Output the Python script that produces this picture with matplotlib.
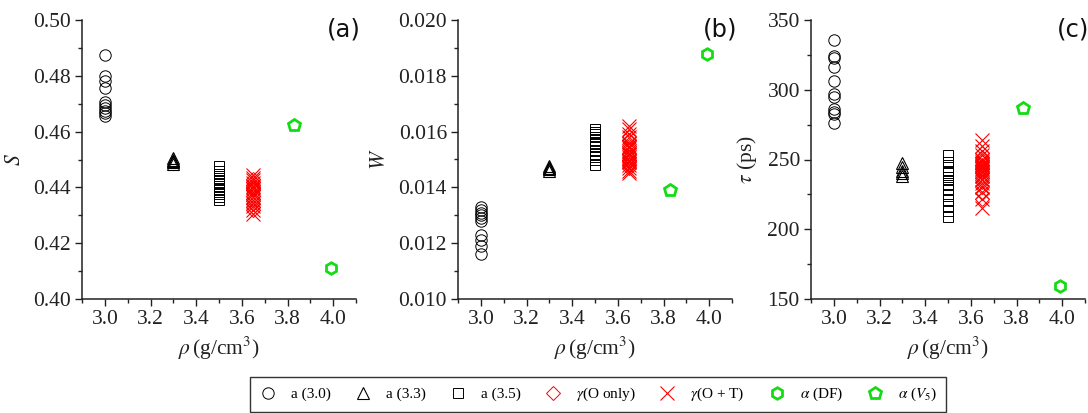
import matplotlib
matplotlib.use("Agg")
import matplotlib.pyplot as plt
from matplotlib.ticker import MultipleLocator, FormatStrFormatter

plt.rcParams['font.family'] = ['Liberation Serif', 'DejaVu Serif']
plt.rcParams['mathtext.fontset'] = 'stix'

# ---- data ----
rho_a30, rho_a33, rho_a35, rho_gam, rho_dfa, rho_v5 = 3.0, 3.3, 3.5, 3.65, 3.99, 3.83

S_a30 = [0.4875, 0.4800, 0.4780, 0.4755, 0.4705, 0.4695, 0.4685, 0.4675, 0.4665, 0.4655]
S_a33 = [0.4485, 0.4490, 0.4495, 0.4500, 0.4505]
S_a35 = [0.4475, 0.4460, 0.4448, 0.4435, 0.4425, 0.4415, 0.4405, 0.4395, 0.4385, 0.4375, 0.4365, 0.4355]
S_gO = [0.4430, 0.4420, 0.4410, 0.4400, 0.4398, 0.4395, 0.4390, 0.4370, 0.4360, 0.4350, 0.4340, 0.4330, 0.4320]
S_gOT = [0.4445, 0.4435, 0.4425, 0.4415, 0.4405, 0.4400, 0.4395, 0.4385, 0.4375, 0.4365, 0.4355, 0.4345, 0.4335, 0.4320, 0.4305]
S_DF = 0.4112
S_V5 = 0.4623

W_a30 = [0.0133, 0.0132, 0.0131, 0.0130, 0.0129, 0.0128, 0.0123, 0.0121, 0.0119, 0.0116]
W_a33 = [0.01460, 0.01465, 0.01468, 0.01470, 0.01475]
W_a35 = [0.0161, 0.0160, 0.0159, 0.0158, 0.0157, 0.0156, 0.0155, 0.0153, 0.0152, 0.0151, 0.0150, 0.0148]
W_gO = [0.0158, 0.0157, 0.0155, 0.0154, 0.0152, 0.0151, 0.0150, 0.0150, 0.0149, 0.0148, 0.0147]
W_gOT = [0.0162, 0.0161, 0.0159, 0.0158, 0.0156, 0.0155, 0.0154, 0.0153, 0.0152, 0.0151, 0.0150, 0.0149, 0.0148, 0.0147, 0.0146, 0.0145]
W_DF = 0.01878
W_V5 = 0.01390

T_a30 = [335.5, 324.5, 322.5, 316.0, 306.5, 297.0, 295.0, 286.0, 284.0, 282.5, 276.5]
T_a33 = [247.5, 244.5, 242.0, 240.0, 238.5]
T_a35 = [253.0, 248.5, 244.5, 242.0, 240.0, 237.5, 235.0, 232.0, 229.0, 225.0, 221.0, 217.0, 213.0, 209.0]
T_gO = [255, 252, 250, 248, 246, 245, 244, 243, 242, 240, 237, 234, 230, 226, 222]
T_gOT = [264, 260, 256, 253, 250, 248, 246, 245, 244, 243, 242, 240, 238, 236, 233, 230, 227, 222, 215]
T_DF = 159.3
T_V5 = 286.9

labels = ['a (3.0)', 'a (3.3)', 'a (3.5)', r'$\gamma$(O only)', r'$\gamma$(O + T)',
          r'$\alpha$ (DF)', r'$\alpha$ ($V_5$)']
panel_tags = ['(a)', '(b)', '(c)']
ylabels = [r'$S$', r'$W$', r'$\tau$ (ps)']

green = '#14dc14'
styles = [
    dict(marker='o', ms=8.2, mfc='none', mec='black', mew=0.7, ls='none'),
    dict(marker='^', ms=8.5, mfc='none', mec='black', mew=0.8, ls='none'),
    dict(marker='s', ms=7.3, mfc='none', mec='black', mew=0.7, ls='none'),
    dict(marker='D', ms=7.5, mfc='none', mec='red', mew=0.7, ls='none'),
    dict(marker='x', ms=10, mfc='none', mec='red', mew=0.8, ls='none'),
    dict(marker='h', ms=8.3, mfc='none', mec=green, mew=2.0, ls='none'),
    dict(marker='p', ms=8.8, mfc='none', mec=green, mew=2.0, ls='none'),
]

datasets = [
    (S_a30, S_a33, S_a35, S_gO, S_gOT, S_DF, S_V5),
    (W_a30, W_a33, W_a35, W_gO, W_gOT, W_DF, W_V5),
    (T_a30, T_a33, T_a35, T_gO, T_gOT, T_DF, T_V5),
]
ylims = [(0.40, 0.50), (0.010, 0.020), (150, 350)]
ymaj = [0.02, 0.002, 50]
yfmt = ['%.2f', '%.3f', '%d']

fig = plt.figure(figsize=(10.88, 4.13), dpi=100)
W, H = 1088, 413
lefts = [82, 458, 811]
axw = 274
top, bottom = 20, 299

handles = None
for i in range(3):
    ax = fig.add_axes([lefts[i] / W, 1 - bottom / H, axw / W, (bottom - top) / H])
    d = datasets[i]
    xs = [rho_a30, rho_a33, rho_a35, rho_gam, rho_gam, rho_dfa, rho_v5]
    hs = []
    for k in range(7):
        vals = d[k] if isinstance(d[k], list) else [d[k]]
        h, = ax.plot([xs[k]] * len(vals), vals, **styles[k])
        hs.append(h)
    handles = hs
    ax.set_xlim(2.9, 4.1)
    ax.set_ylim(*ylims[i])
    ax.xaxis.set_major_locator(MultipleLocator(0.2))
    ax.xaxis.set_minor_locator(MultipleLocator(0.1))
    ax.xaxis.set_major_formatter(FormatStrFormatter('%.1f'))
    ax.yaxis.set_major_locator(MultipleLocator(ymaj[i]))
    ax.yaxis.set_minor_locator(MultipleLocator(ymaj[i] / 2))
    ax.yaxis.set_major_formatter(FormatStrFormatter(yfmt[i]))
    for s in ['top', 'right']:
        ax.spines[s].set_visible(False)
    for s in ['left', 'bottom']:
        ax.spines[s].set_linewidth(1.1)
        ax.spines[s].set_color('#222222')
    ax.tick_params(which='major', direction='out', length=5, width=1.0,
                   labelsize=15.5, colors='#222222', pad=3)
    ax.tick_params(which='minor', direction='out', length=3, width=1.0, colors='#222222')
    ax.set_xlabel(r'$\rho\,$(g/cm$^3$)', fontsize=15.5, color='#222222', labelpad=4)
    ax.set_ylabel(ylabels[i], fontsize=15.5, color='#222222', labelpad=6)
    ax.text(0.955, 0.965, panel_tags[i], transform=ax.transAxes, ha='center', va='center',
            fontsize=17.5, family='DejaVu Sans', color='#111111')

leg = fig.legend(handles, labels, loc='center', bbox_to_anchor=(598 / W, 1 - 394.5 / H),
                 ncol=7, frameon=True, fancybox=False, fontsize=11, handlelength=1.2,
                 handletextpad=0.9, columnspacing=1.5, borderpad=0.55, borderaxespad=0)
leg.get_frame().set_edgecolor('black')
leg.get_frame().set_linewidth(1.0)

fig.savefig('out.png', dpi=100)
